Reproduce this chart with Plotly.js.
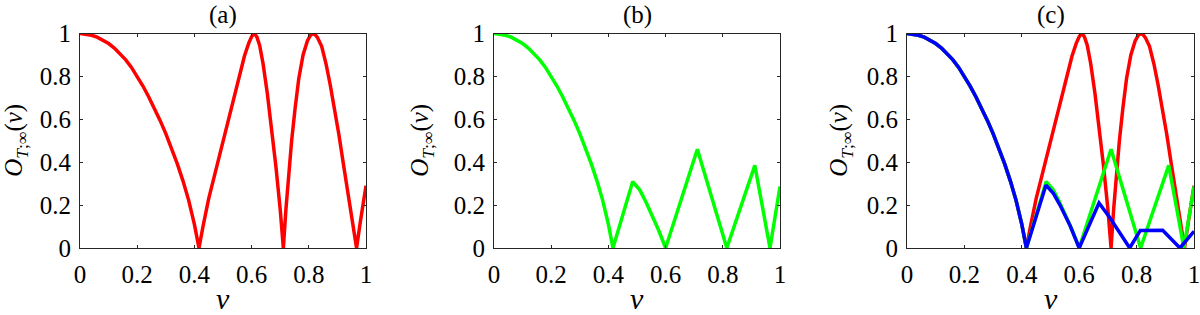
<!DOCTYPE html>
<html>
<head>
<meta charset="utf-8">
<script src="https://cdn.plot.ly/plotly-3.0.1.min.js"></script>
<style>html,body{margin:0;padding:0;background:#fff;}#chart{width:1200px;height:315px;}</style>
</head>
<body>
<div id="chart"></div>
<script>
// Shared first lobe (all three curves coincide for nu < 0.416)
const nuLobe = [0, 0.02, 0.04, 0.06, 0.08, 0.10, 0.12, 0.14, 0.16, 0.18, 0.20, 0.22, 0.24, 0.26, 0.28, 0.30, 0.32, 0.34, 0.36, 0.38, 0.40, 0.416];
const oLobe  = [1, 0.998, 0.992, 0.983, 0.97, 0.953, 0.932, 0.906, 0.877, 0.842, 0.80, 0.755, 0.705, 0.652, 0.595, 0.533, 0.466, 0.393, 0.313, 0.222, 0.11, 0];

// Red curve (panels a, c) after the first zero
const nuRedTail = [0.43, 0.45, 0.48, 0.51, 0.54, 0.56, 0.575, 0.59, 0.60, 0.609, 0.618, 0.628, 0.64, 0.655, 0.67, 0.685, 0.70, 0.711,
                   0.72, 0.73, 0.74, 0.752, 0.765, 0.78, 0.795, 0.805, 0.813, 0.822, 0.83, 0.845, 0.86, 0.875, 0.89, 0.905, 0.92, 0.935, 0.95, 0.967, 0.98, 1.0];
const oRedTail  = [0.10, 0.23, 0.39, 0.55, 0.72, 0.82, 0.895, 0.955, 0.985, 1.0, 0.985, 0.945, 0.86, 0.72, 0.56, 0.38, 0.18, 0,
                   0.18, 0.36, 0.50, 0.65, 0.79, 0.90, 0.965, 0.99, 1.0, 0.995, 0.982, 0.94, 0.86, 0.76, 0.65, 0.53, 0.40, 0.27, 0.14, 0, 0.12, 0.29];

// Green curve (panels b, c)
const nuGreenTail = [0.485, 0.51, 0.53, 0.545, 0.56, 0.575, 0.60, 0.711, 0.814, 0.912, 0.965, 1.0];
const oGreenTail  = [0.31, 0.27, 0.218, 0.175, 0.13, 0.085, 0, 0.46, 0, 0.385, 0, 0.287];

// Blue curve (panel c)
const nuBlueTail = [0.484, 0.51, 0.533, 0.55, 0.568, 0.60, 0.669, 0.707, 0.776, 0.813, 0.891, 0.951, 1.0];
const oBlueTail  = [0.293, 0.255, 0.20, 0.152, 0.105, 0, 0.21, 0.141, 0, 0.082, 0.083, 0, 0.078];

const tickVals = [0, 0.2, 0.4, 0.6, 0.8, 1];
const tickText = ['0', '0.2', '0.4', '0.6', '0.8', '1'];
const panelTitles = ['(a)', '(b)', '(c)'];
const xTitle = '<i>ν</i>';
const yTitle = '<i>O</i><sub><i>T</i>;∞</sub>(<i>ν</i>)';

const nuRed = nuLobe.concat(nuRedTail), oRed = oLobe.concat(oRedTail);
const nuGreen = nuLobe.concat(nuGreenTail), oGreen = oLobe.concat(oGreenTail);
const nuBlue = nuLobe.concat(nuBlueTail), oBlue = oLobe.concat(oBlueTail);

const RED = '#ff0000', GREEN = '#00ff00', BLUE = '#0000ff';
const LW = 3.5;
function tr(x, y, c, xa, ya) {
  return {x: x, y: y, type: 'scatter', mode: 'lines', line: {color: c, width: LW}, xaxis: xa, yaxis: ya, hoverinfo: 'skip'};
}
const data = [
  tr(nuRed, oRed, RED, 'x', 'y'),
  tr(nuGreen, oGreen, GREEN, 'x2', 'y2'),
  tr(nuRed, oRed, RED, 'x3', 'y3'),
  tr(nuGreen, oGreen, GREEN, 'x3', 'y3'),
  tr(nuBlue, oBlue, BLUE, 'x3', 'y3')
];

const W = 1200, H = 315;
const FONT = 'Liberation Serif';
const FS = 25;
const yDom = [1 - 248 / H, 1 - 33.5 / H];
const xDoms = [[80 / W, 366 / W], [494 / W, 780 / W], [907 / W, 1194 / W]];
const yTitleX = [16, 422, 841];

function xax(dom, anchor) {
  return {domain: dom, anchor: anchor, range: [0, 1], tickvals: tickVals, ticktext: tickText,
    ticks: 'inside', ticklen: 3, tickwidth: 1, tickcolor: '#262626', showline: true, mirror: 'ticks',
    linecolor: '#262626', linewidth: 1, showgrid: false, zeroline: false, fixedrange: true,
    ticklabeloverflow: 'allow',
    tickfont: {family: FONT, size: FS, color: '#000'}, ticklabelstandoff: 4};
}
function yax(anchor) {
  return {domain: yDom, anchor: anchor, range: [0, 1], tickvals: tickVals, ticktext: tickText,
    ticks: 'inside', ticklen: 3, tickwidth: 1, tickcolor: '#262626', showline: true, mirror: 'ticks',
    linecolor: '#262626', linewidth: 1, showgrid: false, zeroline: false, fixedrange: true,
    ticklabeloverflow: 'allow',
    tickfont: {family: FONT, size: FS, color: '#000'}, ticklabelstandoff: 3};
}

const annotations = [];
panelTitles.forEach((t, i) => {
  const cx = (xDoms[i][0] + xDoms[i][1]) / 2;
  annotations.push({text: t, xref: 'paper', yref: 'paper', x: cx, y: 1 - 15 / H,
    xanchor: 'center', yanchor: 'middle', showarrow: false, font: {family: FONT, size: FS, color: '#000'}});
  annotations.push({text: xTitle, xref: 'paper', yref: 'paper', x: cx, y: 1 - 298 / H,
    xanchor: 'center', yanchor: 'middle', showarrow: false, font: {family: FONT, size: 30, color: '#000'}});
  annotations.push({text: yTitle, xref: 'paper', yref: 'paper', x: yTitleX[i] / W, y: (yDom[0] + yDom[1]) / 2,
    xanchor: 'center', yanchor: 'middle', textangle: -90, showarrow: false, font: {family: FONT, size: 25, color: '#000'}});
});

const layout = {
  width: W, height: H, margin: {l: 0, r: 0, t: 0, b: 0}, paper_bgcolor: '#fff', plot_bgcolor: '#fff',
  showlegend: false,
  xaxis: xax(xDoms[0], 'y'), yaxis: yax('x'),
  xaxis2: xax(xDoms[1], 'y2'), yaxis2: yax('x2'),
  xaxis3: xax(xDoms[2], 'y3'), yaxis3: yax('x3'),
  annotations: annotations
};

Plotly.newPlot('chart', data, layout, {displayModeBar: false, staticPlot: true});
</script>
</body>
</html>
